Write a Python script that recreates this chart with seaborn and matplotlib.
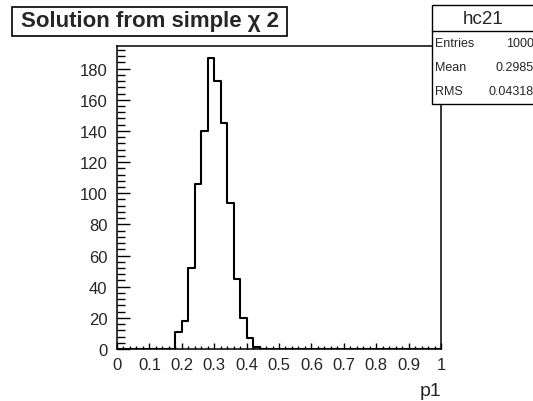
import numpy as np
import matplotlib
matplotlib.use("Agg")
import matplotlib.pyplot as plt
from matplotlib.patches import Rectangle
from matplotlib.lines import Line2D
from matplotlib.ticker import MultipleLocator, FuncFormatter
import seaborn as sns

# p1 histogram: lower bin edges (bins are 0.02 wide) and counts
bin_low = [0.18, 0.20, 0.22, 0.24, 0.26, 0.28, 0.30, 0.32, 0.34, 0.36, 0.38, 0.40, 0.42]
counts = [11, 18, 52, 106, 140, 187, 172, 145, 94, 45, 20, 7, 1]

hist_name = "hc21"
stat_labels = ["Entries", "Mean", "RMS"]
stat_values = ["1000", "0.2985", "0.04318"]
title = "Solution from simple χ 2"

sns.set_style("ticks")
plt.rcParams["font.family"] = ["Liberation Sans", "DejaVu Sans"]

W, H = 533, 402
fig = plt.figure(figsize=(W / 100, H / 100), dpi=100)
ax = fig.add_axes([117 / W, 1 - 350 / H, (441 - 117) / W, (350 - 47) / H])

# histogram outline, ROOT style
centres = np.array(bin_low) + 0.01
sns.histplot(x=centres, weights=counts, bins=50, binrange=(0, 1),
             element="step", fill=False, color="black", linewidth=1.5, ax=ax)

ax.set_xlim(0, 1)
ax.set_ylim(0, 194.5)
ax.xaxis.set_major_locator(MultipleLocator(0.1))
ax.xaxis.set_minor_locator(MultipleLocator(0.02))
ax.yaxis.set_major_locator(MultipleLocator(20))
ax.yaxis.set_minor_locator(MultipleLocator(4))
ax.xaxis.set_major_formatter(FuncFormatter(lambda v, p: f"{v:g}"))

ax.tick_params(axis="y", which="major", direction="in", length=9.5, width=1,
               labelsize=12, pad=7, color="black")
ax.tick_params(axis="y", which="minor", direction="in", length=5.5, width=1, color="black")
ax.tick_params(axis="x", which="major", direction="in", length=4, width=1,
               labelsize=12, pad=6, color="black")
ax.tick_params(axis="x", which="minor", direction="in", length=2, width=1, color="black")
for s in ax.spines.values():
    s.set_color("black")
    s.set_linewidth(1.1)

ax.set_ylabel("")
ax.set_xlabel("p1", fontsize=14, ha="right")
ax.xaxis.set_label_coords(1.0, -0.11)

# title box
fig.add_artist(Rectangle((12 / W, 1 - 36.5 / H), (287 - 12) / W, 29 / H,
                         transform=fig.transFigure, facecolor="white",
                         edgecolor="black", linewidth=1.2, zorder=5))
fig.text(149.5 / W, 1 - 22 / H, title, fontsize=16, fontweight="bold",
         ha="center", va="center", zorder=6)

# stats box
fig.add_artist(Rectangle((431.5 / W, 1 - 105 / H), (570 - 431.5) / W, 99 / H,
                         transform=fig.transFigure, facecolor="white",
                         edgecolor="black", linewidth=1.0, zorder=5))
fig.add_artist(Line2D([431.5 / W, 1.0], [1 - 32 / H, 1 - 32 / H],
                      transform=fig.transFigure, color="black", linewidth=1.0, zorder=6))
fig.text(483.5 / W, 1 - 19.5 / H, hist_name, fontsize=13.5, ha="center", va="center", zorder=6)
for i, (lab, val) in enumerate(zip(stat_labels, stat_values)):
    y = 1 - (44 + 24 * i) / H
    fig.text(435 / W, y, lab, fontsize=9, ha="left", va="center", zorder=6)
    fig.text(534 / W, y, val, fontsize=9, ha="right", va="center", zorder=6)

fig.savefig("out.png", dpi=100)
